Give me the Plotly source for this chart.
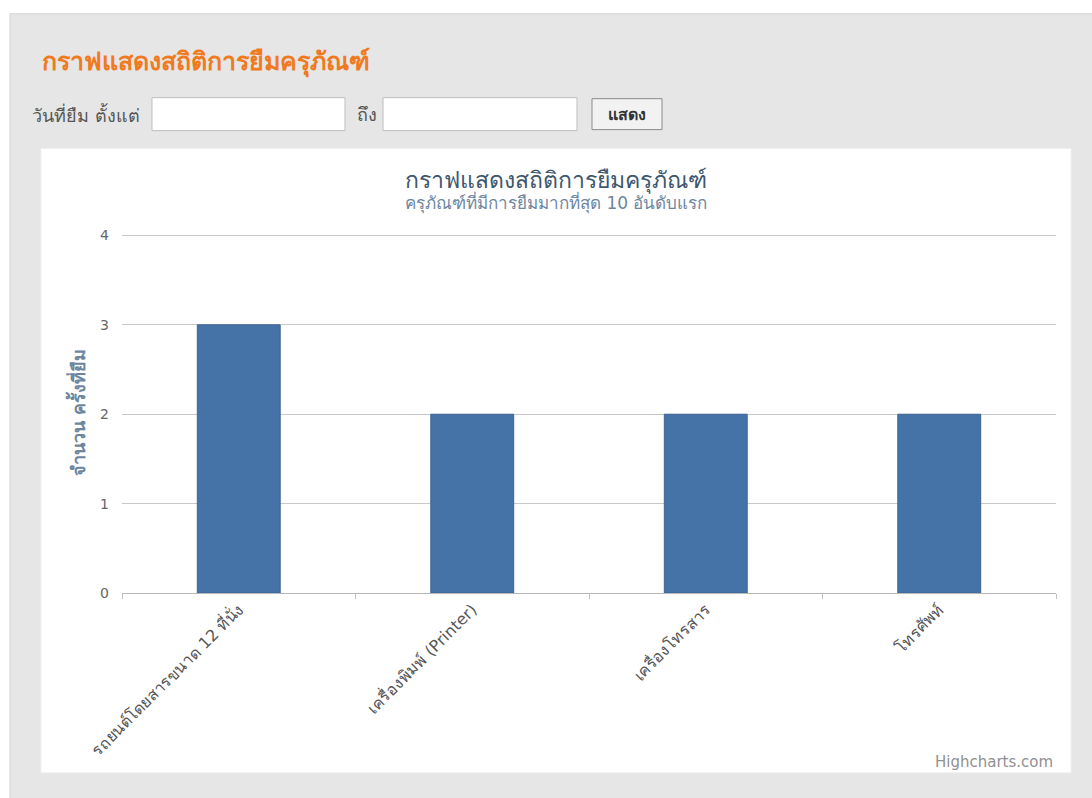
import plotly.graph_objects as go

# ---- data ----
categories = ["รถยนต์โดยสารขนาด 12 ที่นั่ง", "เครื่องพิมพ์ (Printer)", "เครื่องโทรสาร", "โทรศัพท์"]
borrow_counts = [3, 2, 2, 2]
y_ticks = [0, 1, 2, 3, 4]

page_title = "กราฟแสดงสถิติการยืมครุภัณฑ์"
chart_title = "กราฟแสดงสถิติการยืมครุภัณฑ์"
chart_subtitle = "ครุภัณฑ์ที่มีการยืมมากที่สุด 10 อันดับแรก"
y_title = "จำนวน ครั้งที่ยืม"
label_from = "วันที่ยืม ตั้งแต่"
label_to = "ถึง"
button_text = "แสดง"
credit_text = "Highcharts.com"

W, H = 1092, 798
Y_MAX = 4.05
ML, MR, MT, MB = 122, 36, 230.5, 205
PW, PH = W - ML - MR, H - MT - MB

def px(x):
    return (x - ML) / PW

def py(y):
    return (H - MB - y) / PH

FONT = "Tahoma, 'DejaVu Sans', 'Noto Sans', sans-serif"

fig = go.Figure()
fig.add_trace(go.Bar(
    x=categories, y=borrow_counts,
    marker=dict(color="#4572A7", line=dict(color="#3b6494", width=1)),
    width=0.355,
    hoverinfo="x+y",
))

shapes = []
# outer gray container
shapes.append(dict(type="rect", xref="paper", yref="paper", layer="below",
                   x0=px(10), x1=px(1095), y0=py(13), y1=py(800),
                   fillcolor="#e6e6e6", line=dict(color="#d2d2d2", width=1)))
# white chart panel
shapes.append(dict(type="rect", xref="paper", yref="paper", layer="below",
                   x0=px(41), x1=px(1071), y0=py(148), y1=py(773),
                   fillcolor="#ffffff", line=dict(color="#f0f0f0", width=1)))
# input boxes
for x0, x1 in [(152, 345), (383, 577)]:
    shapes.append(dict(type="rect", xref="paper", yref="paper", layer="below",
                       x0=px(x0), x1=px(x1), y0=py(97), y1=py(130),
                       fillcolor="#ffffff", line=dict(color="#bdbdbd", width=1)))
# button
shapes.append(dict(type="rect", xref="paper", yref="paper", layer="below",
                   x0=px(592), x1=px(662), y0=py(98), y1=py(129),
                   fillcolor="#f2f2f2", line=dict(color="#8a8a8a", width=1)))

annotations = [
    dict(text="<b>" + page_title + "</b>", x=px(40), y=py(62), xanchor="left", yanchor="middle",
         font=dict(size=25, color="#f07a1e", family=FONT)),
    dict(text=label_from, x=px(30), y=py(114), xanchor="left", yanchor="middle",
         font=dict(size=18, color="#555555", family=FONT)),
    dict(text=label_to, x=px(355), y=py(114), xanchor="left", yanchor="middle",
         font=dict(size=18, color="#555555", family=FONT)),
    dict(text="<b>" + button_text + "</b>", x=px(627), y=py(114), xanchor="center", yanchor="middle",
         font=dict(size=16, color="#333333", family=FONT)),
    dict(text=chart_title, x=px(556), y=py(180), xanchor="center", yanchor="middle",
         font=dict(size=23, color="#3E576F", family=FONT)),
    dict(text=chart_subtitle, x=px(556), y=py(202), xanchor="center", yanchor="middle",
         font=dict(size=17, color="#6D869F", family=FONT)),
    dict(text="<b>" + y_title + "</b>", x=px(77), y=py(413), xanchor="center", yanchor="middle",
         textangle=-90, font=dict(size=18, color="#6D869F", family=FONT)),
    dict(text=credit_text, x=px(1055), y=py(762), xanchor="right", yanchor="middle",
         font=dict(size=15, color="#909090", family=FONT)),
]
for a in annotations:
    a.update(xref="paper", yref="paper", showarrow=False)

fig.update_layout(
    width=W, height=H,
    margin=dict(l=ML, r=MR, t=MT, b=MB, pad=0),
    paper_bgcolor="#ffffff",
    plot_bgcolor="rgba(0,0,0,0)",
    showlegend=False,
    shapes=shapes,
    annotations=annotations,
    font=dict(family=FONT, color="#666666"),
    bargap=0.645,
)
fig.update_xaxes(
    type="category",
    showgrid=False, zeroline=False,
    showline=True, linecolor="#b8b8b8", linewidth=1,
    ticks="outside", tickson="boundaries", ticklen=5, tickcolor="#c0c0c0",
    tickangle=-45,
    tickfont=dict(size=16, color="#555555", family=FONT),
    fixedrange=True,
)
fig.update_yaxes(
    range=[0, Y_MAX], tickvals=y_ticks,
    showgrid=True, gridcolor="#c8c8c8", gridwidth=1,
    zeroline=False, showline=False,
    ticks="", ticklabelstandoff=12,
    tickfont=dict(size=14, color="#666666", family=FONT),
    fixedrange=True,
)

fig.write_html("out.html", config={"displayModeBar": False})
